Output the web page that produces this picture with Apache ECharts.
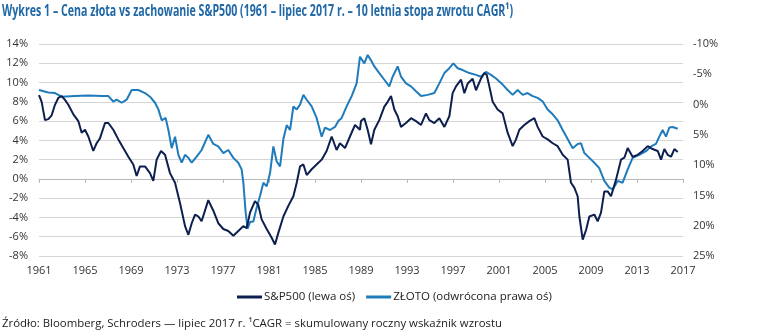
<!DOCTYPE html>
<html>
<head>
<meta charset="utf-8">
<script src="https://cdn.jsdelivr.net/npm/echarts@6/dist/echarts.min.js"></script>
<style>
html,body{margin:0;padding:0;background:#fff;}
#chart{width:770px;height:334px;}
</style>
</head>
<body>
<div id="chart"></div>
<script>
// ---- data ----
var titleText = 'Wykres 1 – Cena złota vs zachowanie S&P500 (1961 – lipiec 2017 r. – 10 letnia stopa zwrotu CAGR¹)';
var footerText = 'Źródło: Bloomberg, Schroders — lipiec 2017 r. ¹CAGR = skumulowany roczny wskaźnik wzrostu';
var seriesNames = ['S&P500 (lewa oś)', 'ZŁOTO (odwrócona prawa oś)'];
var xTickYears = [1961, 1965, 1969, 1973, 1977, 1981, 1985, 1989, 1993, 1997, 2001, 2005, 2009, 2013, 2017];
var leftTicks = [-8, -6, -4, -2, 0, 2, 4, 6, 8, 10, 12, 14];
var rightTicks = [-10, -5, 0, 5, 10, 15, 20, 25];

var spYears = [1961.0,1961.23,1961.52,1961.81,1962.10,1962.39,1962.68,1962.97,1963.26,1963.55,1963.99,1964.42,1964.71,1965.00,1965.29,1965.72,1966.01,1966.30,1966.74,1967.03,1967.46,1967.90,1968.33,1968.77,1969.20,1969.49,1969.78,1970.22,1970.65,1970.94,1971.23,1971.61,1971.96,1972.39,1972.83,1973.26,1973.70,1973.99,1974.28,1974.57,1974.86,1975.14,1975.72,1976.16,1976.59,1977.03,1977.46,1977.90,1978.33,1978.77,1979.06,1979.35,1979.78,1980.07,1980.36,1980.80,1981.23,1981.52,1981.81,1982.25,1982.68,1983.12,1983.41,1983.70,1983.99,1984.28,1984.71,1985.14,1985.58,1986.01,1986.45,1986.88,1987.17,1987.61,1988.04,1988.48,1988.91,1989.0,1989.29,1989.58,1989.87,1990.16,1990.59,1991.03,1991.32,1991.61,1991.90,1992.19,1992.48,1992.91,1993.35,1993.78,1994.22,1994.65,1994.94,1995.38,1995.81,1996.25,1996.68,1996.97,1997.26,1997.70,1997.99,1998.28,1998.71,1999.0,1999.43,1999.72,1999.93,2000.16,2000.45,2000.88,2001.32,2001.75,2002.19,2002.48,2002.77,2003.20,2003.64,2004.07,2004.36,2004.80,2005.23,2005.67,2006.10,2006.54,2006.97,2007.26,2007.55,2007.84,2007.99,2008.28,2008.57,2008.86,2009.29,2009.58,2009.87,2010.16,2010.45,2010.74,2011.17,2011.61,2011.90,2012.19,2012.62,2013.06,2013.49,2013.93,2014.36,2014.80,2015.09,2015.38,2015.67,2015.96,2016.25,2016.54];
var spValues = [8.7,8.0,6.1,6.2,6.6,7.7,8.4,8.6,8.2,7.7,6.7,6.0,4.8,5.1,4.4,2.9,3.7,4.2,5.8,5.8,5.1,4.1,3.2,2.3,1.5,0.3,1.3,1.3,0.6,-0.2,2.0,2.9,2.5,0.6,-0.4,-2.5,-4.9,-5.8,-4.6,-3.7,-3.9,-4.4,-2.2,-3.3,-4.6,-5.2,-5.4,-5.9,-5.4,-4.9,-5.1,-3.5,-2.3,-2.7,-4.2,-5.2,-6.1,-6.8,-5.6,-3.9,-2.8,-1.8,-0.4,1.3,1.5,0.4,1.0,1.5,2.0,2.9,4.4,3.0,3.7,3.2,4.4,5.6,5.1,6.0,6.3,5.1,3.6,5.1,6.1,7.5,8.0,8.6,7.2,6.5,5.4,5.8,6.3,6.0,5.6,6.8,6.1,5.8,6.3,5.4,6.5,8.9,9.6,10.3,8.9,9.9,10.4,9.2,10.4,11.0,10.8,9.6,8.0,7.2,6.8,4.8,3.4,4.1,5.1,5.6,6.0,6.3,5.4,4.4,4.1,3.7,3.4,2.5,2.0,-0.4,-0.9,-1.8,-3.9,-6.3,-5.3,-3.9,-3.7,-4.4,-3.5,-1.3,-1.3,-1.8,-0.1,2.0,2.2,3.2,2.3,2.5,2.9,3.4,3.1,2.9,2.0,3.1,2.5,2.3,3.1,2.8];

var goldYears = [1961.0,1961.81,1962.39,1962.97,1964.13,1965.29,1966.45,1967.03,1967.46,1967.75,1968.19,1968.62,1969.06,1969.64,1970.22,1970.65,1971.09,1971.38,1971.67,1972.01,1972.25,1972.54,1972.83,1973.12,1973.41,1973.70,1973.99,1974.28,1974.71,1975.14,1975.72,1976.16,1976.59,1977.03,1977.46,1977.90,1978.33,1978.62,1978.77,1978.97,1979.14,1979.35,1979.64,1979.93,1980.22,1980.51,1980.80,1981.09,1981.38,1981.67,1981.96,1982.25,1982.54,1982.83,1983.12,1983.41,1983.70,1983.99,1984.28,1984.71,1985.14,1985.58,1985.87,1986.30,1986.74,1987.03,1987.32,1987.75,1988.19,1988.62,1988.91,1989.29,1989.58,1989.87,1990.16,1990.59,1991.03,1991.46,1991.75,1992.19,1992.48,1992.91,1993.35,1993.78,1994.22,1994.80,1995.38,1995.81,1996.25,1996.68,1997.03,1997.41,1997.84,1998.42,1999.0,1999.43,1999.87,2000.30,2000.74,2001.32,2001.75,2002.19,2002.62,2003.06,2003.49,2003.93,2004.36,2004.80,2005.23,2005.67,2006.10,2006.54,2006.97,2007.41,2007.84,2008.13,2008.42,2008.86,2009.29,2009.72,2010.16,2010.59,2010.88,2011.32,2011.75,2012.19,2012.62,2013.20,2013.78,2014.22,2014.65,2014.94,2015.23,2015.52,2015.81,2016.10,2016.54];
var goldValues = [-2.4,-2.0,-1.9,-1.3,-1.4,-1.5,-1.4,-1.4,-0.5,-0.8,-0.3,-0.8,-2.4,-2.4,-1.9,-1.3,-0.3,0.8,2.6,2.2,4.2,7.2,5.3,8.3,9.6,8.3,8.8,9.6,8.6,7.5,5.0,6.5,6.9,8.0,7.5,8.8,9.6,10.7,12.9,17.8,20.5,19.4,19.3,17.0,15.1,12.9,13.5,11.3,6.9,9.4,10.2,5.7,3.4,4.2,0.3,0.8,0.0,-1.6,-0.8,0.3,2.2,5.3,3.8,4.2,3.7,2.7,2.2,0.3,-1.4,-3.5,-7.9,-6.8,-8.2,-7.3,-6.3,-5.2,-4.1,-3.0,-4.6,-6.3,-4.6,-3.5,-3.0,-2.2,-1.4,-1.6,-1.9,-3.5,-5.2,-6.0,-6.8,-6.0,-5.7,-5.2,-4.9,-4.6,-5.4,-4.9,-4.3,-3.3,-2.4,-1.6,-2.4,-1.6,-1.9,-1.4,-1.1,-0.5,0.8,1.6,2.6,4.2,5.7,7.2,6.5,6.4,8.0,8.8,9.6,10.5,12.6,13.7,14.0,12.6,12.9,10.7,8.8,8.3,7.7,6.9,6.5,5.3,4.2,5.3,3.8,3.7,4.0];

// ---- build chart ----
var X0 = xTickYears[0];
function pairs(xs, ys){ return xs.map(function(x,i){ return [x - X0, ys[i]]; }); }

var FONT = '"Open Sans", "Noto Sans", sans-serif';
function measure(text, font){
  var c = document.createElement('canvas').getContext('2d');
  c.font = font; return c.measureText(text).width;
}
var titleFont = 'bold 16px "Open Sans"';
var footFont = '11px "Open Sans"';
var titleScale = 511 / measure(titleText, titleFont);
var footScale = 500 / measure(footerText, footFont);

var chart = echarts.init(document.getElementById('chart'), null, {renderer:'canvas'});
var gridH = 334 - 44 - 78;
var leftMin = leftTicks[0], leftMax = leftTicks[leftTicks.length-1];
var zeroOffset = -gridH * (0 - leftMin) / (leftMax - leftMin);

chart.setOption({
  animation: false,
  backgroundColor: '#fff',
  textStyle: {fontFamily: FONT},
  grid: {left: 39, right: 87, top: 44, bottom: 78},
  legend: {
    left: 232, top: 286,
    icon: 'rect', itemWidth: 25, itemHeight: 3, itemGap: 11,
    textStyle: {fontFamily: FONT, fontSize: 11.5, color: '#222', padding: [0,0,0,-3]},
    data: seriesNames
  },
  xAxis: [{
    type: 'value', min: 0, max: xTickYears[xTickYears.length-1] - X0, interval: 4,
    axisLine: {show: false}, axisTick: {show: false}, splitLine: {show: false},
    axisLabel: {margin: 9, fontSize: 11, color: '#333', fontFamily: FONT,
      formatter: function(v){ return String(v + X0); }}
  },{
    type: 'value', min: 0, max: xTickYears[xTickYears.length-1] - X0, interval: 4,
    position: 'bottom', offset: zeroOffset,
    axisLine: {show: true, onZero: false, lineStyle: {color: '#b8b8b8', width: 1}},
    axisTick: {show: true, length: 4, lineStyle: {color: '#b8b8b8'}},
    axisLabel: {show: false}, splitLine: {show: false}
  }],
  yAxis: [{
    type: 'value', min: leftMin, max: leftMax, interval: 2,
    axisLine: {show: false}, axisTick: {show: false},
    splitLine: {lineStyle: {color: '#d6d6d6', width: 1}},
    axisLabel: {margin: 11, fontSize: 11, color: '#333', fontFamily: FONT,
      formatter: function(v){ return v + '%'; }}
  },{
    type: 'value', min: rightTicks[0], max: rightTicks[rightTicks.length-1], interval: 5,
    inverse: true, position: 'right',
    axisLine: {show: false}, axisTick: {show: false}, splitLine: {show: false},
    axisLabel: {margin: 10, fontSize: 11, color: '#333', fontFamily: FONT,
      formatter: function(v){ return v + '%'; }}
  }],
  series: [{
    name: seriesNames[0], type: 'line', xAxisIndex: 0, yAxisIndex: 0,
    data: pairs(spYears, spValues), showSymbol: false, symbol: 'none',
    lineStyle: {color: '#0d1f4f', width: 2}, itemStyle: {color: '#0d1f4f'}, z: 3
  },{
    name: seriesNames[1], type: 'line', xAxisIndex: 0, yAxisIndex: 1,
    data: pairs(goldYears, goldValues), showSymbol: false, symbol: 'none',
    lineStyle: {color: '#1f7bbb', width: 2}, itemStyle: {color: '#1f7bbb'}, z: 2
  }],
  graphic: [{
    type: 'text', left: 2, top: 3, scaleX: titleScale, originX: 0,
    style: {text: titleText, font: titleFont, fill: '#2068a6'}
  },{
    type: 'text', left: 2, top: 318, scaleX: footScale, originX: 0,
    style: {text: footerText, font: footFont, fill: '#222'}
  }]
});
</script>
</body>
</html>
